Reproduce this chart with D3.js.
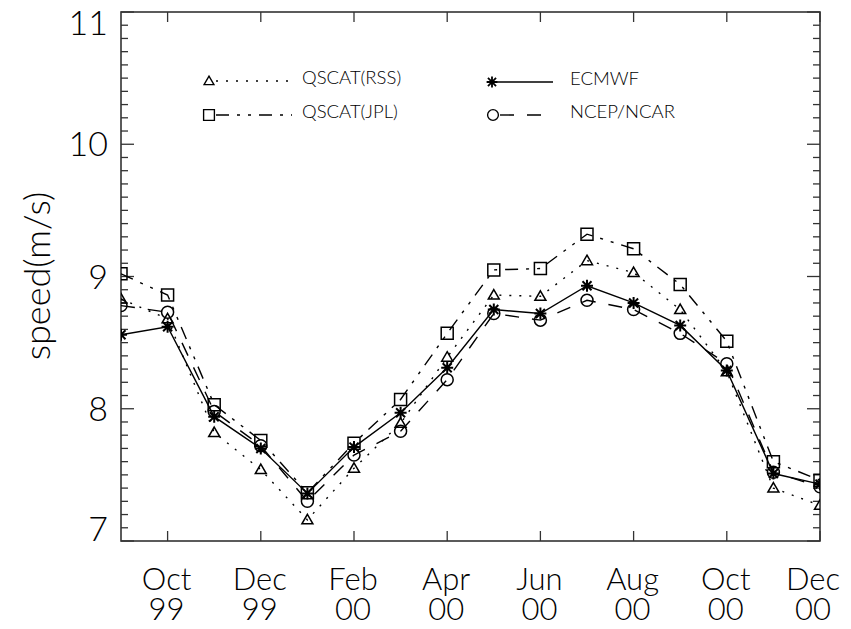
<!DOCTYPE html>
<html>
<head>
<meta charset="utf-8">
<script src="https://cdn.jsdelivr.net/npm/d3@7"></script>
<style>
  body { margin: 0; background: #fff; }
  svg text { font-family: Lato, "DejaVu Sans", sans-serif; font-weight: 300; fill: #000; }
</style>
</head>
<body>
<svg width="851" height="629"></svg>
<script>
// monthly means, Sep 99 .. Dec 00
const months = ["Sep 99","Oct 99","Nov 99","Dec 99","Jan 00","Feb 00","Mar 00","Apr 00",
                "May 00","Jun 00","Jul 00","Aug 00","Sep 00","Oct 00","Nov 00","Dec 00"];
const tickMonths = [1, 3, 5, 7, 9, 11, 13, 15];
const tickMonthNames = ["Oct", "Dec", "Feb", "Apr", "Jun", "Aug", "Oct", "Dec"];
const tickYears = ["99", "99", "00", "00", "00", "00", "00", "00"];
const yTicks = [7, 8, 9, 10, 11];

const rss   = [8.83, 8.68, 7.82, 7.54, 7.16, 7.55, 7.89, 8.39, 8.86, 8.85, 9.12, 9.03, 8.75, 8.28, 7.40, 7.27];
const jpl   = [9.02, 8.86, 8.03, 7.76, 7.365, 7.74, 8.07, 8.57, 9.05, 9.06, 9.32, 9.21, 8.94, 8.51, 7.60, 7.46];
const ecmwf = [8.56, 8.62, 7.94, 7.70, 7.36, 7.71, 7.97, 8.31, 8.75, 8.72, 8.93, 8.80, 8.63, 8.29, 7.51, 7.43];
const ncep  = [8.78, 8.73, 7.98, 7.72, 7.30, 7.65, 7.83, 8.22, 8.72, 8.67, 8.82, 8.75, 8.57, 8.34, 7.52, 7.41];

const series = [
  {name: "QSCAT(RSS)", values: rss,   sym: "triangle", dash: "2,8"},
  {name: "QSCAT(JPL)", values: jpl,   sym: "square",   dash: "13,8,3,8,3,8"},
  {name: "ECMWF",      values: ecmwf, sym: "asterisk", dash: null},
  {name: "NCEP/NCAR",  values: ncep,  sym: "circle",   dash: "14,13"},
];

const plotLeft = 121, plotRight = 820, plotTop = 12, plotBottom = 541;

const svg = d3.select("svg");
const x = d3.scaleLinear().domain([0, months.length - 1]).range([plotLeft, plotRight]);
const y = d3.scaleLinear().domain([7, 11]).range([plotBottom, plotTop]);

const symbolPath = (sym) => {
  if (sym == "triangle") return "M0,-5.5L5.5,4L-5.5,4Z";
  if (sym == "square") return "M-6,-6H6V6H-6Z";
  if (sym == "circle") return "M-6,0A6,6 0 1,0 6,0A6,6 0 1,0 -6,0Z";
  // asterisk
  return "M-6,0H6M0,-6V6M-4.5,-4.5L4.5,4.5M-4.5,4.5L4.5,-4.5";
};

svg.append("clipPath").attr("id", "plotclip")
  .append("rect").attr("x", plotLeft).attr("y", plotTop)
  .attr("width", plotRight - plotLeft).attr("height", plotBottom - plotTop);

// axes: y left/right with minor ticks every 0.1, x top/bottom at labelled months
const minor = d3.range(7, 11.001, 0.1).map(v => +v.toFixed(1));
const axisG = svg.append("g").attr("stroke", "#333").attr("stroke-width", 1.3);

minor.forEach(v => {
  const len = Number.isInteger(v) ? 13 : 7;
  axisG.append("line").attr("x1", plotLeft).attr("x2", plotLeft + len).attr("y1", y(v)).attr("y2", y(v));
  axisG.append("line").attr("x1", plotRight).attr("x2", plotRight - len).attr("y1", y(v)).attr("y2", y(v));
});
tickMonths.forEach(i => {
  axisG.append("line").attr("x1", x(i)).attr("x2", x(i)).attr("y1", plotBottom).attr("y2", plotBottom - 10);
  axisG.append("line").attr("x1", x(i)).attr("x2", x(i)).attr("y1", plotTop).attr("y2", plotTop + 10);
});
axisG.append("rect").attr("x", plotLeft).attr("y", plotTop)
  .attr("width", plotRight - plotLeft).attr("height", plotBottom - plotTop)
  .attr("fill", "none").attr("stroke-width", 1.6);

// y tick labels, end labels nudged inside
svg.append("g").selectAll("text").data(yTicks).join("text")
  .attr("x", 108)
  .attr("y", d => y(d) + (d == 11 ? 11 : d == 7 ? -12 : 0))
  .attr("dy", "0.36em")
  .attr("text-anchor", "end")
  .style("font-size", "34px")
  .text(d => d);

// x tick labels: month on top, year underneath
const labelX = (d, k) => x(d) - 1 - (k == tickMonths.length - 1 ? 6 : 0);
const xLabels = svg.append("g").attr("text-anchor", "middle").style("font-size", "31px");
xLabels.selectAll("text.mon").data(tickMonths).join("text")
  .attr("class", "mon")
  .attr("x", labelX).attr("y", 590)
  .text((d, k) => tickMonthNames[k]);
xLabels.selectAll("text.yr").data(tickMonths).join("text")
  .attr("class", "yr")
  .attr("x", labelX).attr("y", 620)
  .text((d, k) => tickYears[k]);

svg.append("text")
  .attr("transform", "translate(50,276) rotate(-90)")
  .attr("text-anchor", "middle")
  .style("font-size", "36px")
  .text("speed(m/s)");

// series lines and symbols
const line = d3.line().x((d, i) => x(i)).y(d => y(d));
const plot = svg.append("g").attr("clip-path", "url(#plotclip)");
series.forEach(s => {
  plot.append("path")
    .attr("d", line(s.values))
    .attr("fill", "none")
    .attr("stroke", "#000")
    .attr("stroke-width", 1.4)
    .attr("stroke-dasharray", s.dash);
  plot.append("g").selectAll("path").data(s.values).join("path")
    .attr("transform", (d, i) => "translate(" + x(i) + "," + y(d) + ")")
    .attr("d", symbolPath(s.sym))
    .attr("fill", "none")
    .attr("stroke", "#000")
    .attr("stroke-width", s.sym == "asterisk" ? 2 : 1.5);
});

// legend
const legendPos = [
  {sx: 209, lx2: 292, tx: 302, ty: 81},
  {sx: 209, lx2: 292, tx: 302, ty: 115},
  {sx: 492, lx2: 553, tx: 570, ty: 82},
  {sx: 493, lx2: 553, tx: 570, ty: 115},
];
const legend = svg.append("g").selectAll("g").data(series).join("g");
legend.append("line")
  .attr("x1", (d, i) => legendPos[i].sx + (d.sym == "asterisk" ? 0 : 7))
  .attr("x2", (d, i) => legendPos[i].lx2)
  .attr("y1", (d, i) => legendPos[i].ty)
  .attr("y2", (d, i) => legendPos[i].ty)
  .attr("stroke", "#000").attr("stroke-width", 1.4)
  .attr("stroke-dasharray", d => d.dash);
legend.append("path")
  .attr("transform", (d, i) => "translate(" + legendPos[i].sx + "," + legendPos[i].ty + ") scale(0.9)")
  .attr("d", d => symbolPath(d.sym))
  .attr("fill", "none").attr("stroke", "#000")
  .attr("stroke-width", d => d.sym == "asterisk" ? 2 : 1.5);
legend.append("text")
  .attr("x", (d, i) => legendPos[i].tx)
  .attr("y", (d, i) => legendPos[i].ty)
  .attr("dy", "0.15em")
  .style("font-size", "18.5px")
  .text(d => d.name);
</script>
</body>
</html>
